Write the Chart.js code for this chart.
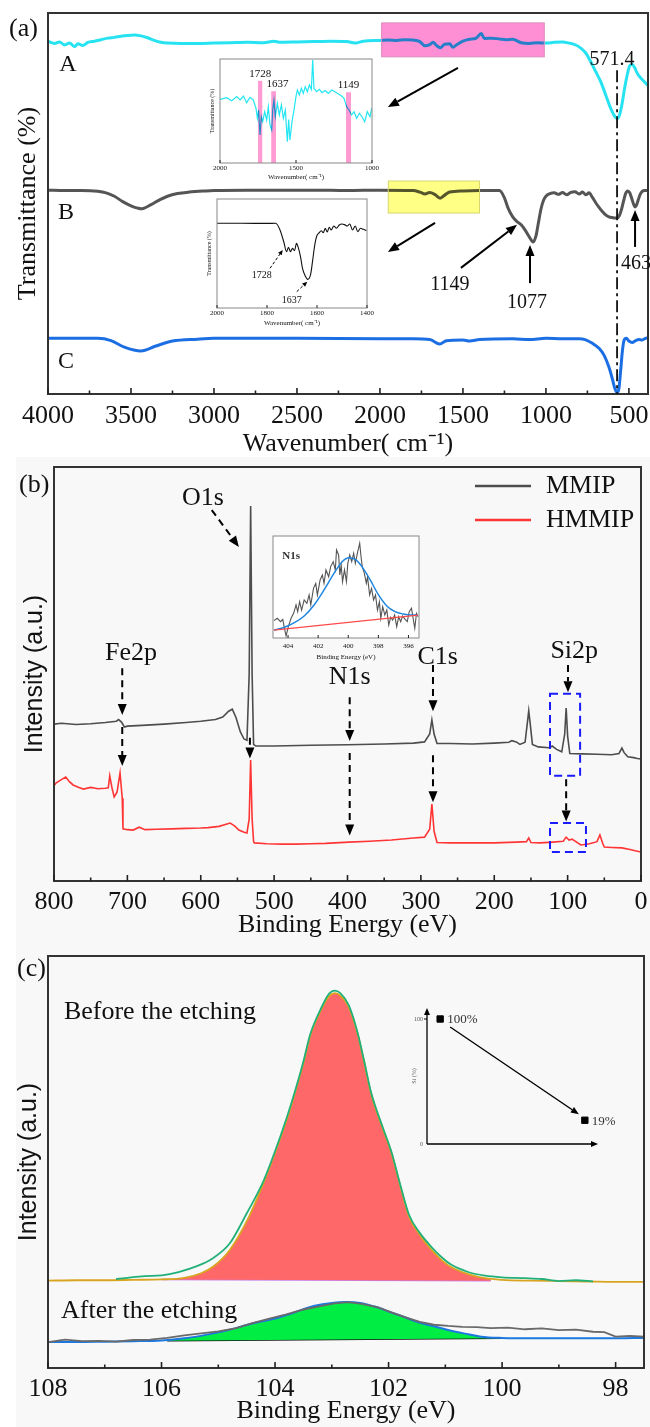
<!DOCTYPE html>
<html>
<head>
<meta charset="utf-8">
<script src="https://cdn.jsdelivr.net/npm/chart.js@4.4.1/dist/chart.umd.min.js"></script>
<style>
  body { margin: 0; width: 650px; height: 1427px; position: relative; overflow: hidden; background: #fff; }
  canvas { position: absolute; }
  #shade { position: absolute; left: 16px; top: 457px; width: 634px; height: 970px; background: #f8f8f8; }
  .tag { position: absolute; font: 26px 'Liberation Serif', serif; color: #111; line-height: 26px; }
</style>
</head>
<body>
<div id="shade"></div>
<canvas id="chA" width="650" height="460" style="left:0;top:0"></canvas>
<canvas id="inA1" width="180" height="135" style="left:200px;top:50px"></canvas>
<canvas id="inA2" width="180" height="140" style="left:200px;top:190px"></canvas>
<canvas id="chB" width="650" height="486" style="left:0;top:455px"></canvas>
<canvas id="inB" width="175" height="140" style="left:255px;top:525px"></canvas>
<canvas id="chC" width="650" height="486" style="left:0;top:941px"></canvas>
<canvas id="inC" width="220" height="160" style="left:395px;top:995px"></canvas>
<div class="tag" style="left:9px;top:15px">(a)</div>
<div class="tag" style="left:19px;top:471px">(b)</div>
<div class="tag" style="left:17px;top:955px">(c)</div>
<script>
// ---------- (a) FTIR spectra, offset transmittance ----------
const wnA = [4000,3960,3930,3900,3870,3840,3820,3790,3760,3720,3680,3640,3600,3560,3520,3480,3440,3400,3360,3320,3280,3200,3100,3000,2900,2800,2700,2640,2600,2500,2400,2300,2200,2150,2100,2000,1950,1900,1850,1800,1760,1730,1700,1680,1660,1637,1610,1580,1560,1540,1500,1460,1420,1390,1370,1330,1280,1240,1200,1149,1100,1050,1000,950,900,860,820,790,760,730,700,670,640,610,590,571,555,540,525,510,495,480,465,450,430,410,395,385];
const trA = [92.6,92.0,92.4,91.6,92.1,91.2,91.9,91.5,92.3,92.6,93.0,93.4,93.6,93.9,94.1,94.2,94.0,93.5,92.8,92.3,92.1,92.0,92.0,92.1,92.2,92.3,92.2,92.6,92.3,92.4,92.5,92.6,92.5,92.1,92.6,92.8,92.9,92.8,93.0,92.9,92.5,91.4,91.7,92.3,91.5,90.9,91.8,91.9,91.0,91.6,92.6,93.1,93.4,94.6,93.3,93.4,93.2,93.0,93.1,92.2,92.0,92.2,92.1,92.3,92.4,92.1,91.6,90.8,89.5,87.2,84.6,82.0,78.5,75.0,73.2,72.3,73.4,76.5,80.5,83.8,86.2,86.5,85.6,84.2,83.0,82.1,81.4,81.0];
const wnB = [4000,3900,3800,3700,3650,3600,3550,3500,3460,3440,3420,3380,3330,3280,3220,3150,3050,3000,2800,2600,2400,2200,2000,1800,1760,1728,1700,1670,1637,1610,1580,1500,1400,1280,1250,1230,1200,1170,1149,1125,1100,1077,1060,1045,1030,1015,1000,975,950,925,900,875,850,825,800,780,760,740,720,700,680,660,640,620,600,585,571,558,545,532,520,508,495,482,470,463,455,445,432,420,405,385];
const trB = [53.5,53.4,53.4,53.2,52.8,51.9,50.5,49.4,48.8,48.6,48.8,49.7,50.9,51.9,52.6,53.0,53.3,53.4,53.5,53.5,53.5,53.4,53.5,53.4,53.0,52.5,52.9,52.4,51.4,52.2,53.0,53.3,53.4,53.4,51.5,49.0,46.5,45.1,44.4,43.0,41.2,39.9,41.5,45.0,48.5,50.8,51.9,52.6,52.8,52.4,52.9,52.3,52.9,53.1,52.5,53.0,52.3,52.8,51.6,50.2,49.0,47.9,47.0,46.5,46.3,46.2,46.2,46.8,48.4,50.7,52.6,53.3,52.8,51.2,49.6,49.1,49.5,50.8,52.4,53.2,53.4,53.4];
const wnC = [4000,3700,3620,3540,3440,3350,3250,3100,3000,2500,2000,1800,1700,1640,1600,1500,1460,1400,1200,1100,1000,900,800,760,720,680,650,620,600,585,571,560,550,540,530,515,500,480,460,440,420,400,385];
const trC = [14.6,14.6,14.0,12.3,11.3,12.6,13.9,14.4,14.6,14.6,14.5,14.5,14.3,13.1,14.0,14.2,13.9,14.3,14.5,14.3,14.6,14.5,14.5,14.2,13.3,12.0,10.2,7.0,4.0,1.5,0.3,1.5,6.0,11.0,14.0,14.6,13.9,13.5,14.0,14.3,14.2,14.6,14.8];
const ticksA = [4000,3500,3000,2500,2000,1500,1000,500];

// inset of A (2000-1000 cm-1)
const wnI1 = [2000,1956,1923,1890,1868,1846,1825,1803,1781,1763,1754,1746,1737,1728,1719,1706,1693,1682,1671,1660,1653,1645,1636,1623,1610,1596,1583,1570,1557,1548,1540,1526,1513,1500,1491,1478,1465,1452,1439,1425,1412,1399,1390,1382,1364,1346,1329,1309,1287,1265,1243,1221,1200,1184,1167,1151,1134,1118,1101,1083,1066,1048,1031,1013,1002];
const trI1 = [61.2,62.8,59.9,63.8,60.6,64.4,58.0,63.1,60.6,52.6,43.0,51.0,26.9,44.5,39.7,49.3,41.3,54.1,36.5,31.7,51.6,60.6,44.5,57.4,46.2,55.8,43.0,51.0,20.5,41.7,22.1,40.0,51.0,64.0,70.2,65.4,71.8,67.0,73.4,68.6,75.0,70.8,99.0,71.8,68.6,70.8,67.6,69.6,67.0,70.2,68.6,66.3,64.4,62.2,54.1,51.0,46.2,49.3,43.0,47.8,44.5,39.7,49.3,44.5,52.6];
const ticksI1 = [2000, 1500, 1000];
const peaksI1 = ['1728', '1637', '1149'];
const bandsI1 = [[1750, 1722], [1663, 1632], [1171, 1138]];
const bandTopI1 = [79, 69, 68];

// inset of B (2000-1400 cm-1)
const wnI2 = [2000,1900,1800,1765,1748,1733,1722,1714,1706,1698,1690,1682,1674,1666,1658,1647,1637,1626,1618,1610,1602,1591,1583,1575,1567,1559,1551,1543,1533,1522,1511,1501,1490,1479,1469,1458,1447,1437,1426,1415,1402];
const trI2 = [77.7,77.7,77.6,77.7,71.6,60.8,51.7,55.7,51.7,54.7,52.6,59.3,54.7,47.1,36.4,29.4,26.3,30.3,42.5,56.3,65.4,69.1,70.9,69.1,73.1,69.7,74.0,71.6,75.2,73.1,76.1,77.1,76.5,75.2,77.1,71.6,75.2,70.0,73.1,72.2,71.0];
const ticksI2 = [2000, 1800, 1600, 1400];

// ---------- (b) XPS survey ----------
const eMM = [800,790,770,750,730,715,712,708,704,700,680,650,620,600,580,570,562,557,552,546,541,537,534,532,530,528,525,500,450,400,350,310,295,288,285,282,278,260,230,200,180,176,170,165,158,155,153,151,148,140,125,121,115,108,104,102,100,97,80,60,40,30,26,23,18,10,5,0];
const iMM = [37.9,38.1,37.8,38.0,38.3,38.6,39.0,38.4,37.2,37.4,37.6,37.9,38.3,38.6,39.0,39.6,41.0,41.5,39.5,36.0,34.3,34.0,50.0,90.6,50.0,33.0,32.6,32.6,32.8,32.9,33.1,33.3,33.6,35.5,38.9,35.5,33.2,33.2,33.1,33.3,33.5,33.9,33.6,33.0,33.5,38.0,41.1,38.0,33.0,32.4,32.2,32.6,31.8,31.2,35.5,41.8,35.0,30.8,30.7,30.6,30.5,30.8,32.1,31.0,30.0,29.8,29.6,29.5];
const eHM = [800,797,790,784,779,774,766,760,750,740,730,726,724,721,718,714,710,707,706,700,692,684,676,660,640,620,600,590,575,560,554,548,541,537,534,532,530,528,527,510,490,470,450,430,398,370,340,310,295,288,285,282,278,260,230,200,170,156,153,150,138,120,106,102,98,94,82,70,60,56,52,50,40,26,15,8,0];
const iHM = [23.0,23.7,24.5,25.1,24.0,23.2,22.6,22.2,22.6,22.3,22.4,22.5,25.4,22.5,20.3,21.5,26.1,20.0,12.6,12.4,12.3,13.0,12.4,12.5,12.6,12.7,12.8,12.9,13.2,14.0,13.3,12.3,11.8,11.6,15.0,29.2,15.0,9.6,9.2,9.0,8.9,8.9,9.0,9.1,9.4,9.6,9.9,10.4,10.6,12.5,18.6,12.0,9.3,9.2,9.2,9.2,9.4,9.5,10.4,9.3,9.2,9.4,9.6,10.6,9.9,10.1,8.7,9.0,9.5,11.1,9.0,8.2,8.1,8.0,7.6,7.3,7.0];
const seriesB = ['MMIP', 'HMMIP'];
const ticksB = [800, 700, 600, 500, 400, 300, 200, 100, 0];

// N1s inset
const eN1s = [404.94,404.72,404.50,404.35,404.24,404.13,403.98,403.80,403.63,403.47,403.36,403.23,403.10,402.93,402.75,402.60,402.49,402.31,402.16,402.05,401.87,401.72,401.61,401.48,401.30,401.17,401.00,400.86,400.78,400.64,400.56,400.47,400.38,400.25,400.12,400.03,399.90,399.77,399.64,399.53,399.37,399.24,399.15,399.07,398.93,398.80,398.72,398.58,398.45,398.32,398.19,398.06,397.93,397.84,397.71,397.57,397.44,397.31,397.18,397.05,396.92,396.78,396.65,396.52,396.39,396.22,396.08,395.95,395.80,395.69,395.58,395.47,395.36];
const iN1s = [17.0,19.3,16.0,18.3,9.5,2.0,11.1,19.3,24.2,32.4,25.8,35.6,27.4,37.3,34.0,42.2,32.4,48.7,53.6,42.2,56.9,61.8,53.6,66.7,60.1,70.0,74.8,66.7,86.3,81.4,61.8,71.6,55.2,66.7,55.2,73.2,81.4,74.8,83.0,73.2,84.6,92.8,79.7,70.0,63.4,53.6,60.1,42.2,48.7,37.3,42.2,27.4,35.6,19.3,30.7,22.5,27.4,12.7,20.3,17.6,22.5,11.1,20.9,16.0,21.6,18.3,16.0,25.8,29.1,19.3,9.5,24.2,20.9];
const eN1sFit = [404.94,404.24,403.58,402.93,402.27,401.61,400.95,400.40,399.96,399.53,399.09,398.54,397.99,397.44,396.89,396.35,395.80,395.36];
const iN1sFit = [7.8,10.5,15.0,21.6,32.4,47.1,63.4,74.8,78.7,77.1,70.0,56.9,42.2,31.4,25.8,23.5,22.5,22.5];
const eN1sBg = [404.94, 395.36];
const iN1sBg = [7.8, 22.5];
const ticksN1s = [404, 402, 400, 398, 396];

// ---------- (c) Si2p before / after etching ----------
const eBefFit = [108,107.5,107,106.5,106,105.6,105.3,105.1,104.8,104.46,104.2,104.0,103.8,103.65,103.5,103.38,103.2,103.05,102.95,102.85,102.7,102.55,102.43,102.31,102.1,101.95,101.8,101.64,101.45,101.24,101.05,100.9,100.6,100.3,100.0,99.5,99,98.5,98,97.5];
const iBefFit = [21.2,21.3,21.3,21.4,21.5,21.9,23.0,24.5,28.6,36.7,45.0,52.2,60.0,66.7,74.0,80.6,86.6,90.2,91.0,90.4,87.5,81.3,74.2,66.7,58.0,52.2,44.5,36.7,32.3,28.6,26.0,24.5,22.8,21.8,21.4,21.2,21.1,21.0,20.9,20.9];
const eBefRaw = [106.8,106.6,106.3,106.0,105.7,105.4,105.1,104.8,104.5,104.2,104.0,103.8,103.65,103.5,103.38,103.2,103.05,102.95,102.85,102.7,102.55,102.43,102.31,102.1,101.95,101.8,101.64,101.45,101.24,101.05,100.9,100.6,100.3,100.0,99.6,99.3,99.0,98.7,98.4];
const iBefRaw = [21.6,21.9,22.3,22.5,23.3,24.6,26.6,30.2,37.5,45.5,52.6,60.5,67.1,74.4,81.0,87.0,90.8,91.6,91.0,88.0,81.6,74.5,67.0,58.3,52.5,44.8,37.2,32.8,29.3,26.7,25.1,23.3,22.4,22.0,21.8,21.6,21.1,21.3,21.0];
const eBefBg = [106.0, 100.2];
const iBefBg = [21.5, 21.2];
const eAftFit = [108,107.5,107,106.5,106,105.6,105.2,104.8,104.4,104.0,103.7,103.3,103.0,102.75,102.5,102.35,102.15,101.98,101.75,101.54,101.35,101.17,101.0,100.82,100.6,100.37,100.0,99.5,99,98.5,98,97.5];
const iAftFit = [6.3,6.3,6.4,6.5,6.7,7.2,8.1,9.3,10.8,12.0,13.3,15.1,15.8,16.0,15.8,15.3,14.5,13.6,12.5,11.4,10.6,10.0,9.4,8.8,8.2,7.6,7.3,7.2,7.2,7.2,7.2,7.3];
const eAftRaw = [108,107.7,107.4,107.1,106.8,106.5,106.2,105.9,105.6,105.3,105.0,104.7,104.4,104.1,103.8,103.5,103.2,102.95,102.7,102.45,102.2,101.95,101.7,101.45,101.2,100.95,100.7,100.45,100.2,99.9,99.6,99.3,99.0,98.7,98.4,98.2,98.0,97.75,97.5];
const iAftRaw = [6.3,6.9,6.5,6.6,6.4,6.8,6.9,7.3,7.9,8.4,8.9,9.6,10.9,12.0,13.0,14.2,15.0,15.7,16.0,15.5,14.8,13.5,12.3,11.2,10.5,10.2,10.0,9.9,9.7,9.8,9.4,9.6,9.2,9.3,8.8,8.7,7.6,7.8,7.6];
const eAftBg = [105.9, 100.0];
const iAftBg = [6.6, 7.2];
const ticksC = [108, 106, 104, 102, 100, 98];

// Si content inset
const siStage = [1, 12];
const siPct = [100, 19];
const siText = ['100%', '19%'];
const ticksSi = [0, 100];

// ---------- helpers ----------
const serif = "'Liberation Serif', 'Times New Roman', serif";
const sans = "'Liberation Sans', Arial, sans-serif";
Chart.defaults.font.family = serif;
Chart.defaults.color = '#111';
Chart.defaults.animation = false;
Chart.defaults.responsive = false;
Chart.defaults.plugins.legend.display = false;
Chart.defaults.plugins.tooltip.enabled = false;

const pts = (xs, ys) => xs.map((x, i) => ({ x: x, y: ys[i] }));
function line(data, color, w, extra) {
  return Object.assign({ data: data, borderColor: color, backgroundColor: color, borderWidth: w,
    pointRadius: 0, fill: false, tension: 0 }, extra || {});
}
function xAxis(min, max, tickList, title, size, labelPad, titlePad, h) {
  return {
    type: 'linear', reverse: true, min: min, max: max,
    afterBuildTicks: s => { s.ticks = tickList.map(v => ({ value: v })); },
    ticks: { autoSkip: false, maxRotation: 0, padding: labelPad, font: { size: size }, color: '#111', callback: v => String(v) },
    grid: { display: false, drawTicks: false }, border: { display: false },
    title: { display: true, text: title, font: { size: size }, color: '#111', padding: { top: 0, bottom: titlePad } },
    afterFit: s => { s.height = h; s.paddingLeft = 0; s.paddingRight = 0; }
  };
}
function yAxis(title, font, pad, w, max) {
  return {
    min: 0, max: max || 100, ticks: { display: false }, grid: { display: false, drawTicks: false }, border: { display: false },
    title: { display: !!title, text: title, font: font, color: '#111', padding: { top: pad, bottom: 0 } },
    afterFit: s => { s.width = w; s.paddingTop = 0; s.paddingBottom = 0; }
  };
}
function px(chart, x, y) { return [chart.scales.x.getPixelForValue(x), chart.scales.y.getPixelForValue(y)]; }
function frame(chart, color, lw) {
  const a = chart.chartArea, c = chart.ctx;
  c.save(); c.strokeStyle = color; c.lineWidth = lw;
  c.strokeRect(a.left, a.top, a.right - a.left, a.bottom - a.top);
  c.restore();
}
function whiteArea(chart) {
  const a = chart.chartArea, c = chart.ctx;
  c.save(); c.fillStyle = '#fff'; c.fillRect(a.left, a.top, a.right - a.left, a.bottom - a.top); c.restore();
}
function inTicks(chart, major, minor, lw) {
  const sx = chart.scales.x, c = chart.ctx, b = chart.chartArea.bottom;
  const vals = sx.ticks.map(t => t.value);
  c.save(); c.strokeStyle = '#222'; c.lineWidth = lw;
  vals.forEach((v, i) => {
    const p = sx.getPixelForValue(v);
    c.beginPath(); c.moveTo(p, b); c.lineTo(p, b - major); c.stroke();
    if (minor && i < vals.length - 1) {
      const m = sx.getPixelForValue((v + vals[i + 1]) / 2);
      c.beginPath(); c.moveTo(m, b); c.lineTo(m, b - minor); c.stroke();
    }
  });
  c.restore();
}
function arrow(c, x1, y1, x2, y2, o) {
  o = o || {};
  const head = o.head || 10, hw = o.hw || 4, ang = Math.atan2(y2 - y1, x2 - x1);
  const bx = x2 - head * Math.cos(ang), by = y2 - head * Math.sin(ang);
  c.save(); c.strokeStyle = c.fillStyle = o.color || '#000'; c.lineWidth = o.lw || 2;
  if (o.dash) c.setLineDash(o.dash);
  c.beginPath(); c.moveTo(x1, y1); c.lineTo(bx, by); c.stroke();
  c.setLineDash([]);
  c.beginPath(); c.moveTo(x2, y2);
  c.lineTo(bx + hw * Math.sin(ang), by - hw * Math.cos(ang));
  c.lineTo(bx - hw * Math.sin(ang), by + hw * Math.cos(ang));
  c.closePath(); c.fill(); c.restore();
}
function text(c, s, x, y, font, align, color) {
  c.save(); c.font = font; c.fillStyle = color || '#111'; c.textAlign = align || 'center'; c.textBaseline = 'middle';
  c.fillText(s, x, y); c.restore();
}

// ---------- (a) ----------
const boxesA = [
  { x: [1990, 1010], y: [97.4, 88.5], fill: '#ff8fd4', edge: '#d98abd' },
  { x: [1950, 1400], y: [55.9, 47.5], fill: '#ffff85', edge: '#d6d66e' }
];
const arrowsA = [[1530, 85.6, 1952, 75.3], [1668, 44.9, 1952, 37.3], [1512, 33.1, 1174, 44.4], [1096, 29.1, 1096, 39.1], [463, 38.6, 463, 48.3]];
const notesA = [['A', 3880, 86.4, 24], ['B', 3892, 47.5, 24], ['C', 3892, 8.4, 24], ['571.4', 602, 87.7, 20], ['1149', 1578, 28.6, 20], ['1077', 1114, 23.9, 20], ['463', 458, 34.1, 20]];

new Chart(document.getElementById('chA'), {
  type: 'line',
  data: { datasets: [
    line(pts(wnA, trA), '#27e3f2', 3, { cubicInterpolationMode: 'monotone' }),
    line(pts(wnB, trB), '#555555', 3, { cubicInterpolationMode: 'monotone' }),
    line(pts(wnC, trC), '#1c6fe3', 3, { cubicInterpolationMode: 'monotone' })
  ] },
  options: {
    layout: { padding: { left: 0, right: 2, top: 13, bottom: 0 } },
    scales: {
      x: xAxis(385, 4000, ticksA, 'Wavenumber( cm\u207B\u00B9)', 26, 7, 0, 66),
      y: yAxis('Transmittance (%)', { size: 26, family: serif }, 13, 48)
    }
  },
  plugins: [{
    id: 'decoA',
    afterDatasetsDraw(chart) {
      const c = chart.ctx;
      boxesA.forEach(b => {
        const p1 = px(chart, b.x[0], b.y[0]), p2 = px(chart, b.x[1], b.y[1]);
        c.save(); c.globalCompositeOperation = 'multiply'; c.fillStyle = b.fill;
        c.fillRect(p1[0], p1[1], p2[0] - p1[0], p2[1] - p1[1]); c.restore();
        c.save(); c.strokeStyle = b.edge; c.lineWidth = 1; c.strokeRect(p1[0], p1[1], p2[0] - p1[0], p2[1] - p1[1]); c.restore();
      });
    },
    afterDraw(chart) {
      const c = chart.ctx;
      frame(chart, '#333', 2);
      inTicks(chart, 6, 3.5, 1.6);
      const t = px(chart, 571.4, 85), b = px(chart, 571.4, 0);
      c.save(); c.strokeStyle = '#111'; c.lineWidth = 1.8; c.setLineDash([12, 4, 3, 4]);
      c.beginPath(); c.moveTo(t[0], t[1]); c.lineTo(b[0], b[1]); c.stroke(); c.restore();
      arrowsA.forEach(a => { const s = px(chart, a[0], a[1]), e = px(chart, a[2], a[3]); arrow(c, s[0], s[1], e[0], e[1], { lw: 2, head: 11, hw: 4.5 }); });
      notesA.forEach(n => { const p = px(chart, n[1], n[2]); text(c, n[0], p[0], p[1], n[3] + 'px ' + serif); });
    }
  }]
});

// inset (a) top
new Chart(document.getElementById('inA1'), {
  type: 'line',
  data: { datasets: [line(pts(wnI1, trI1), '#22e6f2', 1.2)] },
  options: {
    layout: { padding: { left: 0, right: 8, top: 9, bottom: 0 } },
    scales: {
      x: xAxis(1000, 2000, ticksI1, 'Wavenumber( cm\u207B\u00B9)', 7, 1, 4, 22),
      y: yAxis('Transmittance (%)', { size: 6, family: serif }, 9, 20)
    }
  },
  plugins: [{
    id: 'decoA1',
    beforeDatasetsDraw(chart) { whiteArea(chart); },
    afterDatasetsDraw(chart) {
      const c = chart.ctx;
      c.save(); c.globalCompositeOperation = 'multiply'; c.fillStyle = '#ff9ad2';
      bandsI1.forEach((b, i) => {
        const p1 = px(chart, b[0], bandTopI1[i]), p2 = px(chart, b[1], 0);
        c.fillRect(p1[0], p1[1], p2[0] - p1[0], p2[1] - p1[1]);
      });
      c.restore();
    },
    afterDraw(chart) {
      const c = chart.ctx;
      frame(chart, '#888', 1);
      inTicks(chart, 3, 0, 1);
      peaksI1.forEach((s, i) => {
        const mid = (bandsI1[i][0] + bandsI1[i][1]) / 2;
        const p = px(chart, mid, bandTopI1[i] + 6.5);
        text(c, s, p[0] + (i === 1 ? 4 : 0), p[1], '11px ' + serif);
      });
    }
  }]
});

// inset (a) middle
new Chart(document.getElementById('inA2'), {
  type: 'line',
  data: { datasets: [line(pts(wnI2, trI2), '#111', 1.1, { cubicInterpolationMode: 'monotone' })] },
  options: {
    layout: { padding: { left: 0, right: 13, top: 9, bottom: 0 } },
    scales: {
      x: xAxis(1400, 2000, ticksI2, 'Wavenumber( cm\u207B\u00B9)', 7, 1, 3, 22),
      y: yAxis('Transmittance (%)', { size: 6, family: serif }, 6, 17)
    }
  },
  plugins: [{
    id: 'decoA2',
    beforeDatasetsDraw(chart) { whiteArea(chart); },
    afterDraw(chart) {
      const c = chart.ctx;
      frame(chart, '#888', 1);
      inTicks(chart, 3, 0, 1);
      [[1788, 36.4, 1737, 53.2], [1681, 15, 1639, 24.1]].forEach(a => {
        const s = px(chart, a[0], a[1]), e = px(chart, a[2], a[3]);
        arrow(c, s[0], s[1], e[0], e[1], { lw: 1, dash: [3, 2], head: 5, hw: 2.2 });
      });
      let p = px(chart, 1821, 30.3); text(c, '1728', p[0], p[1], '10px ' + serif);
      p = px(chart, 1701, 7.3); text(c, '1637', p[0], p[1], '10px ' + serif);
    }
  }]
});

// ---------- (b) ----------
const labelsB = [['O1s', 597, 92.5], ['Fe2p', 695, 55.1], ['N1s', 397, 49.3], ['C1s', 277, 54.1], ['Si2p', 91, 55.6]];
const arrowsB = [[585, 89.6, 548, 80.7], [707, 51.4, 707, 40.1], [707, 37.2, 707, 27.8], [533, 34.6, 533, 29.6],
  [397, 44.4, 397, 33.8], [397, 30.9, 397, 11.0], [283.5, 52.2, 283.5, 41.0], [283.5, 30.4, 283.5, 19.0],
  [99.5, 52.2, 99.5, 45.6], [102, 24.6, 102, 14.4]];
const boxesB = [[124, 83, 45.2, 25.4], [124, 75, 14.0, 7.0]];

new Chart(document.getElementById('chB'), {
  type: 'line',
  data: { datasets: [
    line(pts(eMM, iMM), '#4d4d4d', 1.6, { label: seriesB[0] }),
    line(pts(eHM, iHM), '#ff3535', 1.6, { label: seriesB[1] })
  ] },
  options: {
    layout: { padding: { left: 0, right: 9, top: 12, bottom: 0 } },
    scales: {
      x: xAxis(0, 800, ticksB, 'Binding Energy (eV)', 26, 6, 0, 60),
      y: yAxis('Intensity (a.u.)', { size: 25, family: sans }, 20, 54)
    }
  },
  plugins: [{
    id: 'decoB',
    afterDraw(chart) {
      const c = chart.ctx, a = chart.chartArea;
      frame(chart, '#333', 2);
      inTicks(chart, 6, 3.5, 1.6);
      arrowsB.forEach(r => { const s = px(chart, r[0], r[1]), e = px(chart, r[2], r[3]); arrow(c, s[0], s[1], e[0], e[1], { lw: 2, dash: [7, 5], head: 11, hw: 4.5 }); });
      boxesB.forEach(b => {
        const p1 = px(chart, b[0], b[2]), p2 = px(chart, b[1], b[3]);
        c.save(); c.strokeStyle = '#1a1aff'; c.lineWidth = 2; c.setLineDash([8, 5]);
        c.strokeRect(p1[0], p1[1], p2[0] - p1[0], p2[1] - p1[1]); c.restore();
      });
      labelsB.forEach(l => { const p = px(chart, l[1], l[2]); text(c, l[0], p[0], p[1], '26px ' + serif); });
      chart.data.datasets.forEach((d, i) => {
        const y = a.top + 19 + i * 34;
        c.save(); c.strokeStyle = d.borderColor; c.lineWidth = 2.5;
        c.beginPath(); c.moveTo(a.right - 166, y); c.lineTo(a.right - 110, y); c.stroke(); c.restore();
        text(c, d.label, a.right - 95, y, '26px ' + serif, 'left');
      });
    }
  }]
});

// N1s inset
new Chart(document.getElementById('inB'), {
  type: 'line',
  data: { datasets: [
    line(pts(eN1sBg, iN1sBg), '#ff4a4a', 1.3),
    line(pts(eN1sFit, iN1sFit), '#1f86e0', 1.5, { cubicInterpolationMode: 'monotone' }),
    line(pts(eN1s, iN1s), '#555', 1.1)
  ] },
  options: {
    layout: { padding: { left: 0, right: 11, top: 11, bottom: 0 } },
    scales: {
      x: xAxis(395.3, 405, ticksN1s, 'Binding Energy (eV)', 7, 4, 4, 27),
      y: yAxis('', { size: 6 }, 0, 18)
    }
  },
  plugins: [{
    id: 'decoInB',
    beforeDatasetsDraw(chart) { whiteArea(chart); },
    afterDraw(chart) {
      frame(chart, '#888', 1);
      inTicks(chart, 3, 0, 1);
      const p = px(chart, 403.8, 80.4);
      text(chart.ctx, 'N1s', p[0], p[1], 'bold 11px ' + serif, 'center', '#333');
    }
  }]
});

// ---------- (c) ----------
const notesC = [['Before the etching', 107.72, 86.4], ['After the etching', 107.77, 13.8]];
new Chart(document.getElementById('chC'), {
  type: 'line',
  data: { datasets: [
    line(pts(eBefRaw, iBefRaw), '#22b07a', 1.8, { cubicInterpolationMode: 'monotone' }),
    line(pts(eBefFit, iBefFit), '#d9a520', 1.8, { cubicInterpolationMode: 'monotone', fill: 2, backgroundColor: '#ff6868' }),
    line(pts(eBefBg, iBefBg), '#c77dea', 1.5),
    line(pts(eAftRaw, iAftRaw), '#6a6a6a', 1.8),
    line(pts(eAftFit, iAftFit), '#1d78e0', 2, { cubicInterpolationMode: 'monotone', fill: 5, backgroundColor: '#00ee44' }),
    line(pts(eAftBg, iAftBg), '#111', 1.5)
  ] },
  options: {
    layout: { padding: { left: 0, right: 6, top: 15, bottom: 0 } },
    scales: {
      x: xAxis(97.5, 108, ticksC, 'Binding Energy (eV)', 26, 6, 0, 59),
      y: yAxis('Intensity (a.u.)', { size: 25, family: sans }, 14, 48)
    }
  },
  plugins: [{
    id: 'decoC',
    afterDraw(chart) {
      const c = chart.ctx;
      frame(chart, '#333', 2);
      inTicks(chart, 6, 3.5, 1.6);
      notesC.forEach(n => { const p = px(chart, n[1], n[2]); text(c, n[0], p[0], p[1], '26px ' + serif, 'left'); });
    }
  }]
});

// Si content inset
new Chart(document.getElementById('inC'), {
  type: 'scatter',
  data: { datasets: [{ data: pts(siStage, siPct), pointStyle: 'rect', pointRadius: 4.5, backgroundColor: '#000', borderColor: '#000' }] },
  options: {
    layout: { padding: { left: 0, right: 17, top: 13, bottom: 0 } },
    scales: {
      x: { min: 0, max: 13, ticks: { display: false }, grid: { display: false, drawTicks: false }, border: { display: false },
        afterFit: s => { s.height = 11; s.paddingLeft = 0; s.paddingRight = 0; } },
      y: { min: 0, max: 108.8,
        afterBuildTicks: s => { s.ticks = ticksSi.map(v => ({ value: v })); },
        ticks: { font: { size: 6 }, padding: 4, color: '#555' },
        grid: { display: false, drawTicks: false }, border: { display: false },
        title: { display: true, text: 'Si (%)', font: { size: 6 }, color: '#555', padding: { top: 16, bottom: 0 } },
        afterFit: s => { s.width = 32; s.paddingTop = 0; s.paddingBottom = 0; } }
    }
  },
  plugins: [{
    id: 'decoInC',
    afterDraw(chart) {
      const c = chart.ctx, a = chart.chartArea;
      arrow(c, a.left, a.bottom, a.left, a.top, { lw: 1.3, head: 7, hw: 3 });
      arrow(c, a.left, a.bottom, a.right, a.bottom, { lw: 1.3, head: 7, hw: 3 });
      const t = px(chart, 0, 100);
      c.save(); c.strokeStyle = '#000'; c.lineWidth = 1; c.beginPath(); c.moveTo(a.left - 3, t[1]); c.lineTo(a.left, t[1]); c.stroke(); c.restore();
      const p1 = px(chart, siStage[0], siPct[0]), p2 = px(chart, siStage[1], siPct[1]);
      arrow(c, p1[0] + 10, p1[1] + 8, p2[0] - 6, p2[1] - 6, { lw: 1.4, head: 8, hw: 3.2 });
      siText.forEach((s, i) => { const p = px(chart, siStage[i], siPct[i]); text(c, s, p[0] + 7, p[1] + 1, '13px ' + serif, 'left', '#333'); });
    }
  }]
});
</script>
</body>
</html>
